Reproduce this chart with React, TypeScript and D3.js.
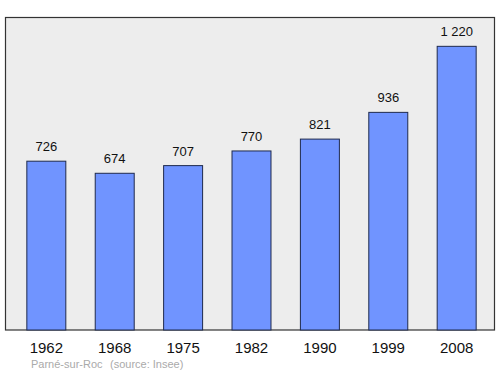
import React from "react";
import * as d3 from "d3";

const years = ["1962", "1968", "1975", "1982", "1990", "1999", "2008"];
const population = [726, 674, 707, 770, 821, 936, 1220];
const valueLabels = ["726", "674", "707", "770", "821", "936", "1 220"];
const placeName = "Parné-sur-Roc";
const sourceText = "(source: Insee)";

export default function App() {
  const W = 500, H = 374;
  const left = 5.5, right = 494.5, top = 17.5, bottom = 330;
  const x = d3.scaleBand<string>().domain(years).range([left + 1.5, right + 1.5]).paddingInner(0.43).paddingOuter(0.29);
  const y = d3.scaleLinear().domain([0, 1344]).range([bottom, top]);
  const font = "'Liberation Sans', Arial, sans-serif";
  return (
    <svg width={W} height={H} style={{ position: "absolute", left: 0, top: 0 }} fontFamily={font}>
      <rect x={left} y={top} width={right - left} height={bottom - top} fill="#ededed" stroke="#333" strokeWidth={1.2} />
      {years.map((yr, i) => {
        const bx = x(yr)!;
        const by = y(population[i]);
        return (
          <g key={yr}>
            <rect x={bx} y={by} width={x.bandwidth()} height={bottom - by} fill="#7094ff" stroke="#1f2a4d" strokeWidth={1} />
            <text x={bx + x.bandwidth() / 2} y={by - 10} textAnchor="middle" fontSize={13} fill="#111">{valueLabels[i]}</text>
            <text x={bx + x.bandwidth() / 2} y={353} textAnchor="middle" fontSize={15} fill="#111">{yr}</text>
          </g>
        );
      })}
      <text x={31} y={368} fontSize={11} fill="#aaa">{placeName}</text>
      <text x={110} y={368} fontSize={11} fill="#aaa">{sourceText}</text>
    </svg>
  );
}
